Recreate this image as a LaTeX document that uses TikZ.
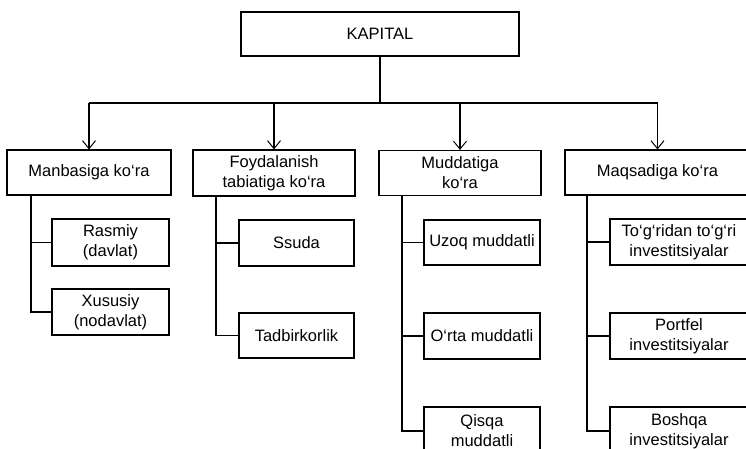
\documentclass[tikz,border=0pt]{standalone}
\usepackage{fontspec}
\setmainfont{Liberation Sans}
\usetikzlibrary{arrows.meta}
\begin{document}
\begin{tikzpicture}[x=1pt,y=-1pt,
  line width=1.1pt,
  box/.style={draw, rectangle, inner sep=0pt, align=center,
    font=\fontsize{16.5}{20}\selectfont},
  conn/.style={line width=1.1pt},
  arr/.style={-{Straight Barb[length=8pt,width=13pt,line width=1pt]}}]
\useasboundingbox (0,0) rectangle (746,449);
\clip (0,0) rectangle (746,449);
\fill[white] (0,0) rectangle (746,449);

% top
\node[box, minimum width=278pt, minimum height=44pt] (K) at (380,34) {KAPITAL};

% level 2
\node[box, minimum width=164pt, minimum height=45pt] (m1) at (89,172.5) {Manbasiga ko‘ra};
\node[box, minimum width=162pt, minimum height=46pt] (m2) at (274,173) {Foydalanish\\tabiatiga ko‘ra};
\node[box, minimum width=162pt, minimum height=45pt] (m3) at (460,173) {Muddatiga\\ko‘ra};
\node[box, minimum width=185pt, minimum height=45pt] (m4) at (657.5,172.5) {Maqsadiga ko‘ra};

% bus
\coordinate (bus) at (380,103);
\draw[conn] (K.south) -- (bus);
\draw[conn] (m1.north |- bus) -- (m4.north |- bus);
\foreach \m in {m1,m2,m3,m4}{
  \draw[conn,arr] (\m.north |- bus) -- (\m.north);
}

% children of m1
\node[box, minimum width=117pt, minimum height=47pt] (a1) at (110.5,242.5) {Rasmiy\\(davlat)};
\node[box, minimum width=117pt, minimum height=46pt] (a2) at (110.5,312) {Xususiy\\(nodavlat)};
% children of m2
\node[box, minimum width=115pt, minimum height=46pt] (b1) at (296.5,243) {Ssuda};
\node[box, minimum width=115pt, minimum height=45pt] (b2) at (296.5,335.5) {Tadbirkorlik};
% children of m3
\node[box, minimum width=116pt, minimum height=45pt] (c1) at (482,242.5) {Uzoq muddatli};
\node[box, minimum width=116pt, minimum height=46pt] (c2) at (482,336) {O‘rta muddatli};
\node[box, minimum width=116pt, minimum height=48pt] (c3) at (482,431) {Qisqa\\muddatli};
% children of m4
\node[box, minimum width=138pt, minimum height=46pt] (d1) at (679,242) {To‘g‘ridan to‘g‘ri\\investitsiyalar};
\node[box, minimum width=138pt, minimum height=46pt] (d2) at (679,336) {Portfel\\investitsiyalar};
\node[box, minimum width=138pt, minimum height=48pt] (d3) at (679,431) {Boshqa\\investitsiyalar};

% trunks
\coordinate (t1) at (31,195);
\coordinate (t2) at (216,196);
\coordinate (t3) at (402,195.5);
\coordinate (t4) at (587,195);
\draw[conn] (t1) |- (a2.west);
\draw[conn] (t1 |- a1.west) -- (a1.west);
\draw[conn] (t2) |- (b2.west);
\draw[conn] (t2 |- b1.west) -- (b1.west);
\draw[conn] (t3) |- (c3.west);
\draw[conn] (t3 |- c1.west) -- (c1.west);
\draw[conn] (t3 |- c2.west) -- (c2.west);
\draw[conn] (t4) |- (d3.west);
\draw[conn] (t4 |- d1.west) -- (d1.west);
\draw[conn] (t4 |- d2.west) -- (d2.west);
\end{tikzpicture}
\end{document}
